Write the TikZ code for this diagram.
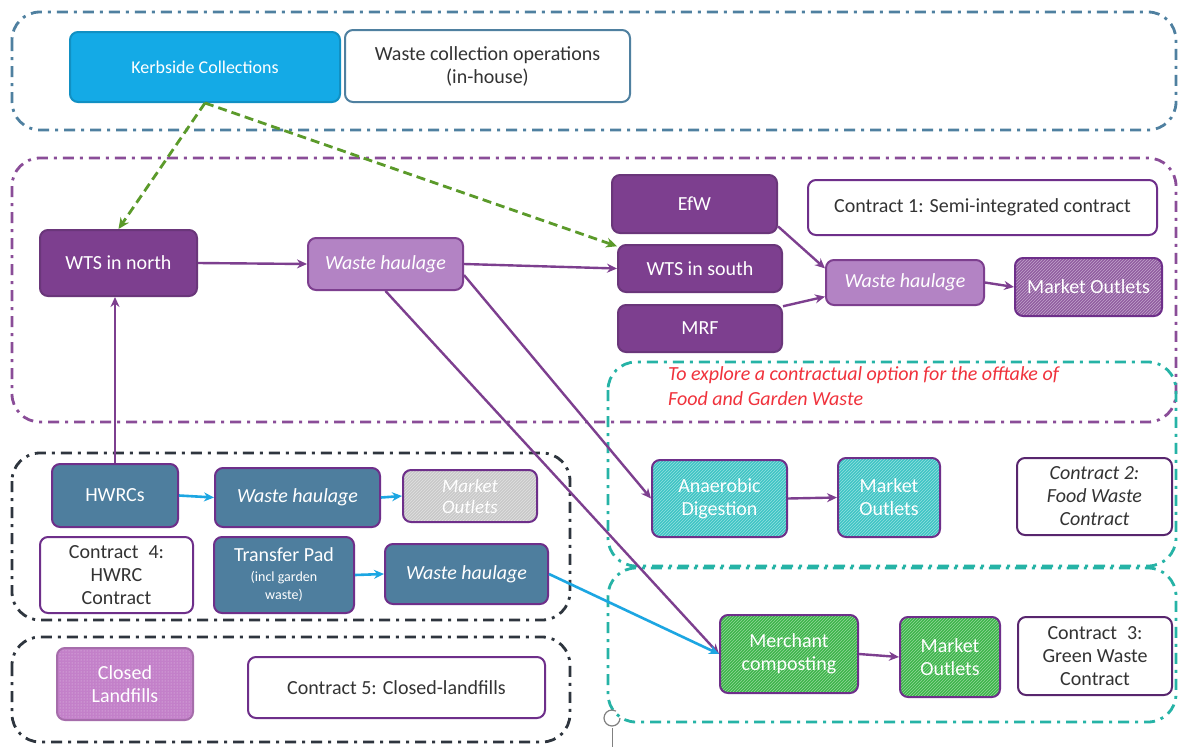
\documentclass[tikz,border=0pt]{standalone}
\usepackage{fontspec}
\setmainfont{Carlito}
\usetikzlibrary{patterns,arrows.meta}
\definecolor{grpblue}{HTML}{4F80A0}
\definecolor{grppurple}{HTML}{8A4D98}
\definecolor{grpteal}{HTML}{26B3A6}
\definecolor{grpdark}{HTML}{2E353E}
\definecolor{kerbfill}{HTML}{14AAE6}
\definecolor{dpurple}{HTML}{7D3F8F}
\definecolor{lpurple}{HTML}{B383C4}
\definecolor{steel}{HTML}{4E7E9E}
\definecolor{tealfill}{HTML}{3EC4C4}
\definecolor{greenfill}{HTML}{3CB54A}
\definecolor{grayfill}{HTML}{C8C8C8}
\definecolor{pinkfill}{HTML}{C380C9}
\definecolor{redtext}{HTML}{F0323C}
\definecolor{garrowc}{HTML}{5B9A2A}
\definecolor{barrowc}{HTML}{1CA6E2}
\definecolor{bordpurple}{HTML}{6E2F8A}
\definecolor{txtdark}{HTML}{333333}
\tikzset{
  grp/.style={line width=2.8pt, rounded corners=28pt, dash pattern=on 11pt off 6pt on 3pt off 6pt},
  bx/.style={rounded corners=8pt, line width=2pt, align=center, inner sep=2pt,
    font=\fontsize{20}{23}\selectfont},
  darkbox/.style={bx, fill=dpurple, draw=dpurple!85!black, text=white},
  hbox/.style={bx, fill=lpurple, draw=dpurple, text=white, font=\fontsize{20}{23}\selectfont\itshape},
  wbox/.style={bx, fill=white, draw=bordpurple, text=txtdark},
  sbox/.style={bx, fill=steel, draw=bordpurple, text=white},
  hatchbox/.style={bx, draw=bordpurple, text=white, preaction={fill=#1}, pattern=north east lines, pattern color=white!45!#1},
  parrow/.style={draw=dpurple, line width=2.4pt, -{Stealth[length=10pt,width=9pt]}},
  barrow/.style={draw=barrowc, line width=2.6pt, -{Stealth[length=10pt,width=9pt]}},
  garrow/.style={draw=garrowc, line width=2.8pt, dash pattern=on 9pt off 5pt, -{Stealth[length=11pt,width=10pt]}},
}
\begin{document}
\begin{tikzpicture}[x=1pt,y=-1pt]
\useasboundingbox[fill=white] (0,0) rectangle (1178,747);
% groups
\draw[grp, draw=grpblue] (12,12) rectangle (1176,130);
\draw[grp, draw=grppurple] (12,158) rectangle (1176,422);
\draw[grp, draw=grpteal] (608,362) rectangle (1176,566);
\draw[grp, draw=grpteal] (608,568) rectangle (1176,722);
\draw[grp, draw=grpdark] (12,453) rectangle (570,620);
\draw[grp, draw=grpdark] (12,637) rectangle (570,742);
% top
\node[bx, fill=kerbfill, draw=kerbfill!85!black, text=white, minimum width=270pt, minimum height=70pt, font=\fontsize{18}{21}\selectfont] (kerb) at (205,67) {Kerbside Collections};
\node[bx, fill=white, draw=grpblue, text=txtdark, minimum width=285pt, minimum height=72pt] (wco) at (487.5,66) {Waste collection operations\\(in-house)};
% purple group
\node[darkbox, minimum width=157pt, minimum height=66pt] (wtsn) at (118.5,263) {WTS in north};
\node[hbox, minimum width=155pt, minimum height=52pt] (wh1) at (385.5,264) {Waste haulage};
\node[darkbox, minimum width=165pt, minimum height=58pt] (efw) at (694.5,204) {EfW};
\node[darkbox, minimum width=164pt, minimum height=47pt] (wtss) at (700,268.5) {WTS in south};
\node[darkbox, minimum width=164pt, minimum height=47pt] (mrf) at (700,328.5) {MRF};
\node[wbox, minimum width=349pt, minimum height=55pt] (c1) at (982.5,207.5) {Contract 1: Semi-integrated contract};
\node[hbox, minimum width=158pt, minimum height=45pt] (wh2) at (905,282.5) {Waste haulage};
\node[hatchbox=dpurple!85!white, minimum width=147pt, minimum height=58pt] (mo1) at (1088.5,287) {Market Outlets};
% teal groups
\node[text=redtext, align=left, anchor=north west, inner sep=0pt, font=\fontsize{20}{25}\selectfont\itshape] (note) at (668,366) {To explore a contractual option for the offtake of\\Food and Garden Waste};
\node[hatchbox=tealfill, minimum width=135pt, minimum height=77pt] (ad) at (719.5,498.5) {Anaerobic\\Digestion};
\node[hatchbox=tealfill, minimum width=102pt, minimum height=79pt] (mo2) at (889,497.5) {Market\\Outlets};
\node[wbox, draw=bordpurple!80!black, minimum width=155pt, minimum height=77pt, font=\fontsize{20}{23}\selectfont\itshape] (c2) at (1094.5,496.5) {Contract 2:\\Food Waste\\Contract};
\node[hatchbox=greenfill, minimum width=138pt, minimum height=78pt] (mc) at (789,654) {Merchant\\composting};
\node[hatchbox=greenfill, minimum width=100pt, minimum height=80pt] (mo3) at (950,657) {Market\\Outlets};
\node[wbox, draw=bordpurple!80!black, minimum width=154pt, minimum height=78pt] (c3) at (1095,656) {Contract\enspace3:\\Green Waste\\Contract};
% HWRC group
\node[sbox, minimum width=126pt, minimum height=63pt] (hwrc) at (115,495.5) {HWRCs};
\node[sbox, minimum width=165pt, minimum height=59pt, font=\fontsize{20}{23}\selectfont\itshape] (wh3) at (297.5,497.5) {Waste haulage};
\node[hatchbox=grayfill, minimum width=134pt, minimum height=52pt, font=\fontsize{19}{21}\selectfont\itshape] (mo4) at (470,496) {Market\\Outlets};
\node[wbox, minimum width=153pt, minimum height=76pt, font=\fontsize{20}{23}\selectfont] (c4) at (116.5,575) {Contract\enspace4:\\HWRC\\Contract};
\node[sbox, minimum width=140pt, minimum height=76pt] (tp) at (284,575) {Transfer Pad\\[-3pt]{\fontsize{14}{16}\selectfont (incl garden}\\[-5pt]{\fontsize{14}{16}\selectfont waste)}};
\node[sbox, minimum width=163pt, minimum height=60pt, font=\fontsize{20}{23}\selectfont\itshape] (wh4) at (466.5,574) {Waste haulage};
% landfill group
\node[bx, draw=pinkfill!85!black, text=white, preaction={fill=pinkfill}, pattern=dots, pattern color=white!60!pinkfill, minimum width=136pt, minimum height=72pt] (cl) at (125,684) {Closed\\Landfills};
\node[wbox, minimum width=297pt, minimum height=61pt] (c5) at (396.5,687.5) {Contract 5: Closed-landfills};
% connectors
\draw[garrow] (kerb.south) -- (wtsn.north);
\draw[garrow] (kerb.south) -- (wtss.165);
\draw[parrow] (wtsn.east) -- (wh1.west);
\draw[parrow] (wh1.east) -- (wtss.west);
\draw[parrow] (wh1.-8) -- (ad.west);
\draw[parrow] (wh1.south) -- (mc.west);
\draw[parrow] (hwrc.north) -- (hwrc.north |- wtsn.south);
\draw[parrow] (efw.-15) -- (wh2.170);
\draw[parrow] (mrf.15) -- (wh2.190);
\draw[parrow] (wh2.east) -- (mo1.west);
\draw[parrow] (ad.east) -- (mo2.west);
\draw[parrow] (mc.east) -- (mo3.west);
\draw[barrow] (hwrc.east) -- (wh3.west);
\draw[barrow] (wh3.east) -- (mo4.west);
\draw[barrow] (tp.east) -- (wh4.west);
\draw[barrow] (wh4.east) -- (mc.west);
% small rotate marker
\coordinate (rc) at (612,718);
\draw[gray, line width=1.2pt] (rc) ++(8,0) arc (0:300:8);
\draw[gray, line width=1pt] (612,728) -- (612,747);
\end{tikzpicture}
\end{document}
